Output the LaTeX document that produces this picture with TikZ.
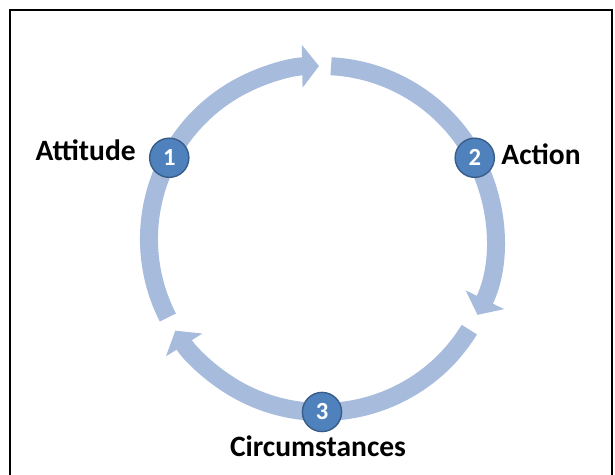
\documentclass[tikz,border=0pt]{standalone}
\usepackage{fontspec}
\setmainfont{Carlito}
\usetikzlibrary{calc,arrows.meta}

\definecolor{ringblue}{RGB}{167,187,221}
\definecolor{stageblue}{RGB}{79,129,189}
\definecolor{stageedge}{RGB}{56,93,138}

\tikzset{
  cycle arrow/.style={ringblue, line width=0.45cm, -{Triangle[width=1.05cm,length=0.42cm]}},
  stage/.style={circle, fill=stageblue, draw=stageedge, line width=0.035cm,
                minimum size=0.98cm, inner sep=0pt, text=white,
                font=\fontsize{17.5}{20}\selectfont\bfseries},
  stage label/.style={inner sep=0pt, font=\fontsize{21}{25}\selectfont\bfseries}
}

\begin{document}
\begin{tikzpicture}
    \useasboundingbox (0cm,0cm) rectangle (15.375cm,11.875cm);
    \draw[line width=0.0625cm] (0.25cm,-0.2cm) |- (15.3cm,11.625cm) -- (15.3cm,-0.2cm);

    \coordinate (hub) at (8.05cm,5.9cm);

    \draw[cycle arrow] ($(hub)+(207:4.325cm)$) arc[start angle=207, end angle=91,  radius=4.325cm];
    \draw[cycle arrow] ($(hub)+(87:4.325cm)$)  arc[start angle=87,  end angle=-26, radius=4.325cm];
    \draw[cycle arrow] ($(hub)+(-31.6:4.325cm)$) arc[start angle=-31.6, end angle=-148, radius=4.325cm];

    \node[stage] (one)   at ($(hub)+(152:4.325cm)$) {1};
    \node[stage] (two)   at ($(hub)+(28:4.325cm)$)  {2};
    \node[stage] (three) at ($(hub)+(270:4.325cm)$) {3};

    \node[stage label, anchor=base east] (attitude)      at (3.4cm,7.85cm)  {Attitude};
    \node[stage label, anchor=base west] (action)        at (12.53cm,7.76cm) {Action};
    \node[stage label, anchor=base]      (circumstances) at (7.95cm,0.46cm) {Circumstances};
\end{tikzpicture}
\end{document}
